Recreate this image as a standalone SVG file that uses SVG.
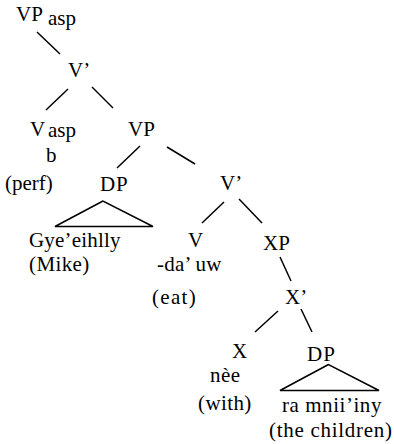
<svg xmlns="http://www.w3.org/2000/svg" width="394" height="444" viewBox="0 0 394 444">
<style>
.e{stroke:#000;stroke-width:1.5;fill:none}
</style>
<rect width="394" height="444" fill="#fff"/>
<g id="connectors">
<line class="e" x1="37" y1="32" x2="60" y2="54"/>
<line class="e" x1="68" y1="89" x2="46" y2="110"/>
<line class="e" x1="92" y1="87" x2="113" y2="108"/>
<line class="e" x1="140" y1="146" x2="117" y2="168"/>
<line class="e" x1="167" y1="147" x2="195" y2="164"/>
<line class="e" x1="224" y1="202" x2="202" y2="223"/>
<line class="e" x1="239" y1="199" x2="262" y2="223"/>
<line class="e" x1="280" y1="257" x2="291" y2="281"/>
<line class="e" x1="278" y1="311" x2="255" y2="332"/>
<line class="e" x1="301" y1="309" x2="312" y2="332"/>
<polygon class="e" points="103,201 55,226.5 153,226.5"/>
<polygon class="e" points="328.5,364.5 280,390.5 379,390.5"/>
</g>
<g font-size="21" font-family="Liberation Serif">
<g id="vpasp"><text x="16" y="21">VP</text><text x="48" y="25">asp</text></g>
<g id="vbar1"><text x="68" y="77">V’</text></g>
<g id="vasp"><text x="30" y="136">V</text><text x="48" y="137">asp</text><text x="46" y="162">b</text><text x="5" y="190">(perf)</text></g>
<g id="vp2"><text x="128" y="136">VP</text></g>
<g id="dp1"><text x="100" y="191" letter-spacing="0.8">DP</text><text x="29" y="247" letter-spacing="0.2">Gye’eihlly</text><text x="29" y="271" letter-spacing="0.4">(Mike)</text></g>
<g id="vbar2"><text x="220" y="190">V’</text></g>
<g id="v"><text x="188" y="247">V</text><text x="157" y="271" letter-spacing="0.2">-da’ uw</text><text x="152" y="304" letter-spacing="1.3">(eat)</text></g>
<g id="xp"><text x="263" y="250">XP</text></g>
<g id="xbar"><text x="285" y="304">X’</text></g>
<g id="x"><text x="232" y="358">X</text><text x="210" y="382" letter-spacing="0.5">nèe</text><text x="198" y="410" letter-spacing="0.4">(with)</text></g>
<g id="dp2"><text x="307" y="361" letter-spacing="1">DP</text><text x="282" y="412" letter-spacing="0.55">ra mnii’iny</text><text x="269" y="437" letter-spacing="0.72">(the children)</text></g>
</g>
</svg>
